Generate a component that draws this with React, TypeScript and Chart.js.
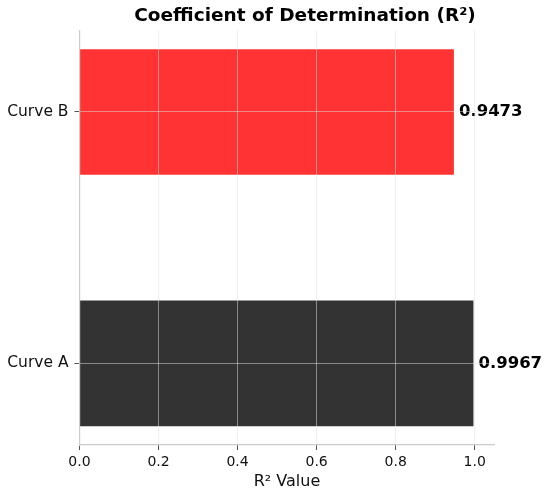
import { useEffect, useRef } from "react"
import { Chart, registerables } from "chart.js"

Chart.register(...registerables)

const categories = ["Curve A", "Curve B"]
const r2Values = [0.9967, 0.9473]
const barColors = ["rgba(0, 0, 0, 0.8)", "rgba(255, 0, 0, 0.8)"]
const xTicks = [0, 0.2, 0.4, 0.6, 0.8, 1.0]
const chartTitle = "Coefficient of Determination (R²)"

const FONT = "'DejaVu Sans', sans-serif"

const valueLabels = {
  id: "valueLabels",
  afterDatasetsDraw(chart: Chart) {
    const ctx = chart.ctx
    const meta = chart.getDatasetMeta(0)
    ctx.save()
    ctx.font = `bold 16.5px ${FONT}`
    ctx.fillStyle = "#000"
    ctx.textAlign = "left"
    ctx.textBaseline = "middle"
    meta.data.forEach((bar: any, i: number) => {
      ctx.fillText(r2Values[i].toFixed(4), bar.x + 5, bar.y)
    })
    ctx.restore()
  },
}

// title sits a bit right of the plot centre in the original
const titlePlugin = {
  id: "titleText",
  afterDraw(chart: Chart) {
    const ctx = chart.ctx
    ctx.save()
    ctx.font = `bold 18.5px ${FONT}`
    ctx.fillStyle = "#000"
    ctx.textAlign = "center"
    ctx.textBaseline = "middle"
    ctx.fillText(chartTitle, 305, 16)
    ctx.restore()
  },
}

export default function App() {
  const chartRef = useRef<HTMLCanvasElement>(null)
  const chartInstance = useRef<Chart | null>(null)

  useEffect(() => {
    document.body.style.margin = "0"
    if (!chartRef.current) return
    if (chartInstance.current) chartInstance.current.destroy()
    const ctx = chartRef.current.getContext("2d")
    if (!ctx) return

    const gridOpts = {
      z: 1,
      offset: false,
      color: "rgba(225, 225, 225, 0.5)",
      lineWidth: 1,
      tickLength: 5,
      tickColor: "#555",
    }

    chartInstance.current = new Chart(ctx, {
      type: "bar",
      data: {
        datasets: [
          {
            data: r2Values.map((v, i) => ({ x: v, y: i })),
            backgroundColor: barColors,
            borderWidth: 0,
            categoryPercentage: 1,
            barPercentage: 0.5,
          },
        ],
      },
      plugins: [valueLabels, titlePlugin],
      options: {
        indexAxis: "y",
        animation: false,
        responsive: true,
        maintainAspectRatio: false,
        layout: { padding: { left: 0, right: 55.5, top: 30.3, bottom: 0 } },
        scales: {
          x: {
            type: "linear",
            offset: false,
            min: 0,
            max: 1.05,
            afterBuildTicks: (scale: any) => {
              scale.ticks = xTicks.map((v) => ({ value: v }))
            },
            afterFit: (scale: any) => {
              scale.height = 51
            },
            ticks: {
              font: { family: FONT, size: 14 },
              color: "#111",
              padding: 4,
              callback: (v: any) => Number(v).toFixed(1),
            },
            grid: gridOpts,
            border: { z: 1, color: "#cccccc", width: 1.2 },
            title: {
              display: true,
              text: "R² Value",
              font: { family: FONT, size: 16 },
              color: "#111",
              padding: { top: 0, bottom: 4.5 },
            },
          },
          y: {
            type: "linear",
            offset: false,
            min: -0.325,
            max: 1.325,
            afterBuildTicks: (scale: any) => {
              scale.ticks = categories.map((_, i) => ({ value: i }))
            },
            afterFit: (scale: any) => {
              scale.width = 79.5
            },
            ticks: {
              font: { family: FONT, size: 15.5 },
              color: "#111",
              padding: 6,
              callback: (v: any) => categories[v] ?? "",
            },
            grid: gridOpts,
            border: { z: 1, color: "#cccccc", width: 1.2 },
          },
        },
        plugins: {
          legend: { display: false },
          tooltip: { enabled: false },
          title: { display: false },
        },
      },
    })

    return () => {
      if (chartInstance.current) {
        chartInstance.current.destroy()
        chartInstance.current = null
      }
    }
  }, [])

  return (
    <div style={{ width: 550, height: 496, position: "relative", background: "#fff" }}>
      <canvas ref={chartRef} />
    </div>
  )
}
